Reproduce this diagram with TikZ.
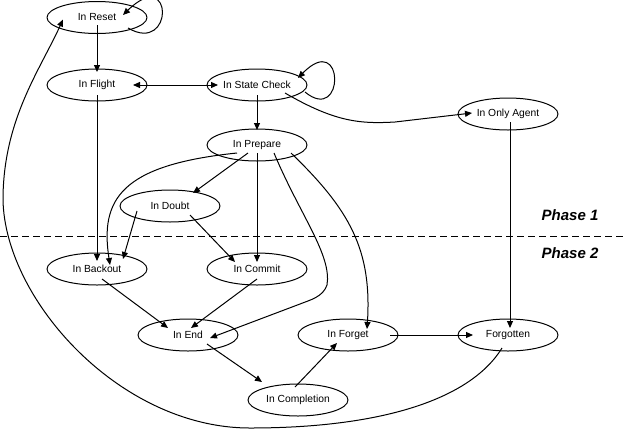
\documentclass[tikz,border=0pt]{standalone}
\usepackage{fontspec}
\setmainfont{Liberation Sans}
\usetikzlibrary{shapes.geometric,arrows.meta}
\begin{document}
\begin{tikzpicture}[x=1pt,y=-1pt,>={Triangle[length=7pt,width=6pt]},line join=round,line width=1pt,
	font=\fontsize{10.3}{12}\selectfont,
	state/.style={ellipse,draw,minimum width=100pt,minimum height=32pt,inner sep=0pt},
	phase/.style={font=\fontsize{15}{18}\selectfont\bfseries\itshape}]
	\useasboundingbox (0,0) rectangle (626,432);
	% states
	\node[state] (reset) at (97,17.5) {In Reset};
	\node[state] (flight) at (97,85) {In Flight};
	\node[state] (check) at (257,85) {In State Check};
	\node[state] (prepare) at (257,145) {In Prepare};
	\node[state] (agent) at (508,114) {In Only Agent};
	\node[state] (doubt) at (170,206) {In Doubt};
	\node[state] (backout) at (97,269) {In Backout};
	\node[state] (commit) at (257,269) {In Commit};
	\node[state] (end) at (188,335) {In End};
	\node[state] (forget) at (348,335) {In Forget};
	\node[state] (forgotten) at (508,335) {Forgotten};
	\node[state] (completion) at (298,400) {In Completion};
	% phase border
	\draw[dashed,dash pattern=on 7pt off 4pt] (0,236) -- (626,236);
	\node[phase] (ph1) at (570,215) {Phase 1};
	\node[phase] (ph2) at (570,253) {Phase 2};
	% transitions
	\draw[->] ([shift={(31,10.5)}]reset.center) .. controls (174,55) and (174,-35) .. ([shift={(26,-2.5)}]reset.center);
	\draw[->] ([shift={(0,7.5)}]reset.center) -- ([shift={(0,-13)}]flight.center);
	\draw[<->] ([shift={(36,0)}]flight.center) -- ([shift={(-39,0)}]check.center);
	\draw[->] ([shift={(48,7)}]check.center) .. controls (345,125) and (345,30) .. ([shift={(41,-7)}]check.center);
	\draw[->] ([shift={(0,10)}]check.center) -- ([shift={(0,-15)}]prepare.center);
	\draw[->] ([shift={(28,8)}]check.center) .. controls (335,122) and (360,124) .. (395,122) -- ([shift={(-36,-1)}]agent.center);
	\draw[->] ([shift={(0,10)}]flight.center) -- ([shift={(0,-8)}]backout.center);
	\draw[->] ([shift={(-20,8)}]prepare.center) .. controls (120,165) and (100,200) .. ([shift={(13,-4)}]backout.center);
	\draw[->] ([shift={(-9,8)}]prepare.center) -- ([shift={(23,-13)}]doubt.center);
	\draw[->] ([shift={(0,8)}]prepare.center) -- ([shift={(0,-7)}]commit.center);
	\draw[->] ([shift={(34,8)}]prepare.center) .. controls (350,210) and (372,250) .. ([shift={(19,-6)}]forget.center);
	\draw[->] ([shift={(17,8)}]prepare.center) .. controls (300,215) and (332,255) .. (327,285)
		.. controls (323,297) and (310,300) .. (300,304) -- ([shift={(22,3)}]end.center);
	\draw[->] ([shift={(-33,5)}]doubt.center) -- ([shift={(26,-10)}]backout.center);
	\draw[->] ([shift={(20,9)}]doubt.center) -- ([shift={(-22,-7)}]commit.center);
	\draw[->] ([shift={(5,10)}]backout.center) -- ([shift={(-20,-7)}]end.center);
	\draw[->] ([shift={(0,10)}]commit.center) -- ([shift={(3,-7)}]end.center);
	\draw[->] ([shift={(19,9)}]end.center) -- ([shift={(-36,-18)}]completion.center);
	\draw[->] ([shift={(-3,-13)}]completion.center) -- ([shift={(-11,8)}]forget.center);
	\draw[->] ([shift={(42,0)}]forget.center) -- ([shift={(-35,0)}]forgotten.center);
	\draw[->] ([shift={(2,8)}]agent.center) -- ([shift={(2,-7)}]forgotten.center);
	\draw[->] ([shift={(-6,13)}]forgotten.center) .. controls (470,400) and (380,428) .. (250,428)
		.. controls (120,428) and (5,300) .. (3,200)
		.. controls (3,120) and (40,70) .. ([shift={(-34,2)}]reset.center);
\end{tikzpicture}
\end{document}
